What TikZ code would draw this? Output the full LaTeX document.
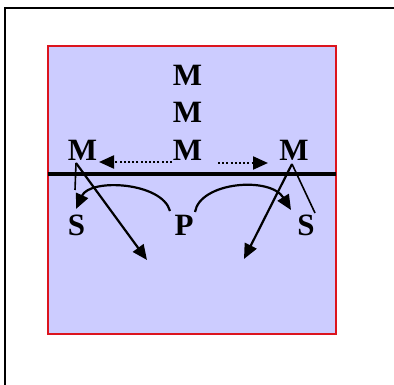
\documentclass[tikz,border=0pt]{standalone}
\usepackage{fontspec}
\setmainfont{Liberation Serif}
\usetikzlibrary{arrows.meta}
\definecolor{panelfill}{RGB}{204,204,255}
\definecolor{redline}{RGB}{220,20,30}
\tikzset{
  lbl/.style={font=\fontsize{31}{31}\selectfont\bfseries, inner sep=0pt},
  arr/.style={line width=2.2pt, -{Triangle[length=15pt,width=13pt]}},
  dotarr/.style={line width=2.2pt, dash pattern=on 2pt off 2.2pt, -{Triangle[length=15pt,width=13pt]}},
  plain/.style={line width=1.6pt}
}
\begin{document}
\begin{tikzpicture}[x=1pt,y=-1pt]
\useasboundingbox (0,0) rectangle (394,385);
% outer frame
\draw[line width=2.4pt] (5,385) -- (5,8) -- (394,8);
% panel
\fill[panelfill] (47.5,46) rectangle (335.5,333.5);
\draw[redline, line width=2pt] (47.5,46) -- (335.5,46) -- (335.5,333.5) -- (47.5,333.5) -- cycle;
% horizontal line
\coordinate (hl) at (47.5,174);
\coordinate (hr) at (335.5,174);
\draw[line width=3.4pt] (hl) -- (hr);
% labels
\node[lbl] (m1) at (187.5,75) {M};
\node[lbl] (m2) at (187.5,112) {M};
\node[lbl] (m3) at (187.5,150) {M};
\node[lbl] (ml) at (82.5,150) {M};
\node[lbl] (mr) at (294,150) {M};
\node[lbl] (sl) at (76.5,225) {S};
\node[lbl] (p) at (184,225) {P};
\node[lbl] (sr) at (306,225) {S};
% dotted arrows
\coordinate (dl0) at (172,162);
\coordinate (dl1) at (99,162);
\coordinate (dr0) at (218,163);
\coordinate (dr1) at (268,163);
\draw[dotarr] (dl0) -- (dl1);
\draw[dotarr] (dr0) -- (dr1);
% left M lines
\coordinate (la) at (76,163);
\coordinate (lb) at (75,190);
\coordinate (lc) at (147,260);
\draw[plain] (la) -- (lb);
\draw[arr] (la) -- (lc);
% right M lines
\coordinate (ra) at (292,164);
\coordinate (rb) at (315,213);
\coordinate (rc) at (244,259);
\draw[plain] (ra) -- (rb);
\draw[arr] (ra) -- (rc);
% curved arrows from P
\coordinate (pl) at (170,211);
\coordinate (pr) at (195,212);
\coordinate (slt) at (76,209);
\coordinate (srt) at (291,210);
\draw[arr] (pl) .. controls (162,182) and (90,178) .. (slt);
\draw[arr] (pr) .. controls (200,182) and (270,176) .. (srt);
\end{tikzpicture}
\end{document}
